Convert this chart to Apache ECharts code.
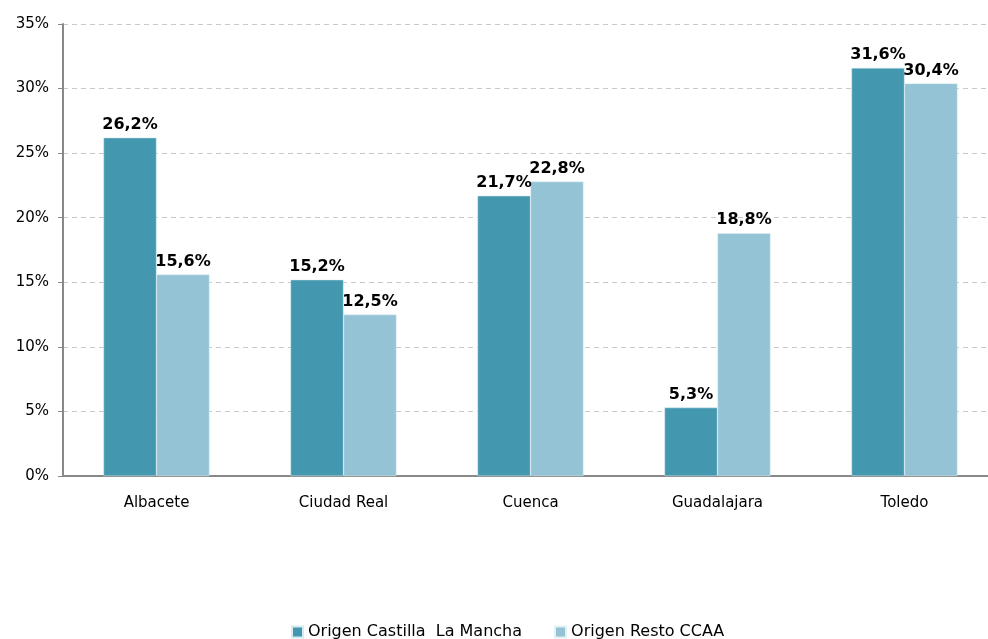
<!DOCTYPE html>
<html>
<head>
<meta charset="utf-8">
<script src="https://cdn.jsdelivr.net/npm/echarts@6/dist/echarts.min.js"></script>
<style>
  html, body { margin: 0; padding: 0; background: #fff; }
  #chart { width: 988px; height: 639px; }
</style>
</head>
<body>
<div id="chart"></div>
<script>
const categories = ['Albacete', 'Ciudad Real', 'Cuenca', 'Guadalajara', 'Toledo']
const castillaLaMancha = [26.2, 15.2, 21.7, 5.3, 31.6]
const restoCCAA = [15.6, 12.5, 22.8, 18.8, 30.4]
const seriesNames = ['Origen Castilla  La Mancha', 'Origen Resto CCAA']

const fmt = v => v.toFixed(1).replace('.', ',') + '%'

const labelStyle = {
  show: true,
  position: 'top',
  distance: 5,
  color: '#000',
  fontFamily: 'DejaVu Sans',
  fontWeight: 'bold',
  fontSize: 16,
  formatter: p => fmt(p.value)
}

const chart = echarts.init(document.getElementById('chart'))
chart.setOption({
  animation: false,
  textStyle: { fontFamily: 'DejaVu Sans' },
  grid: { left: 63, width: 935, top: 24, bottom: 163, outerBoundsMode: 'none', containLabel: false },
  legend: {
    data: seriesNames,
    bottom: -6,
    left: 286,
    itemWidth: 11,
    itemHeight: 11,
    itemGap: 32,
    icon: 'rect',
    textStyle: { color: '#000', fontSize: 16, fontFamily: 'DejaVu Sans' }
  },
  xAxis: {
    type: 'category',
    data: categories,
    axisTick: { show: false },
    axisLine: { lineStyle: { color: '#888', width: 2 } },
    axisLabel: { color: '#000', fontSize: 15, margin: 20, fontFamily: 'DejaVu Sans' }
  },
  yAxis: {
    type: 'value',
    min: 0,
    max: 35,
    interval: 5,
    axisLine: { show: true, lineStyle: { color: '#888', width: 2 } },
    axisTick: { show: true, length: 5, lineStyle: { color: '#888' } },
    axisLabel: { color: '#000', fontSize: 15, margin: 14, formatter: '{value}%', fontFamily: 'DejaVu Sans' },
    splitLine: { lineStyle: { color: '#c8c8c8', type: [5, 4] } }
  },
  series: [
    {
      name: seriesNames[0],
      type: 'bar',
      data: castillaLaMancha,
      barWidth: 53,
      barGap: '0%',
      itemStyle: { color: '#4398AF', borderColor: '#d6ecf2', borderWidth: 0.5 },
      label: labelStyle
    },
    {
      name: seriesNames[1],
      type: 'bar',
      data: restoCCAA,
      barWidth: 53,
      itemStyle: { color: '#93C3D5', borderColor: '#e4f1f6', borderWidth: 0.5 },
      label: labelStyle
    }
  ]
})
</script>
</body>
</html>
